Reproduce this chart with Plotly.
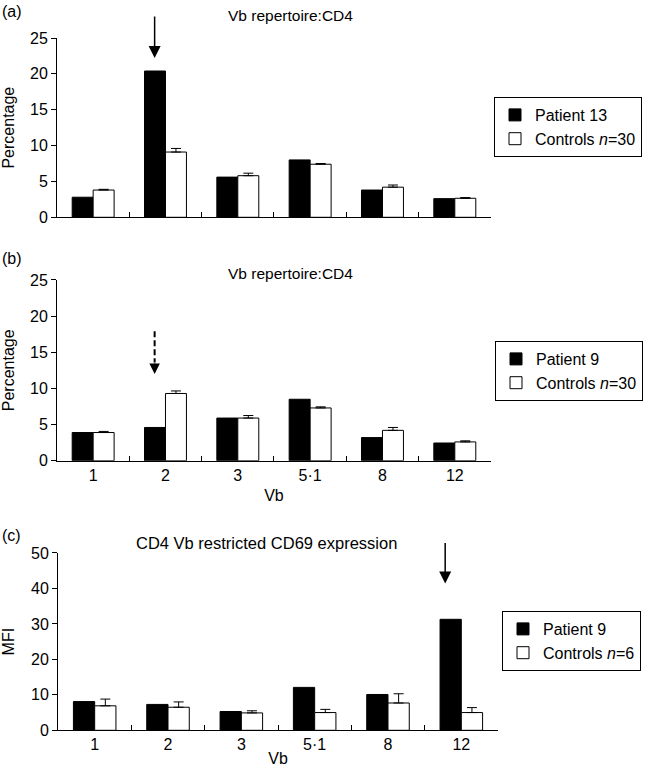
import plotly.graph_objects as go

categories = ["1", "2", "3", "5·1", "8", "12"]

# Panel (a): Vb repertoire CD4, Patient 13 vs controls n=30
a_patient = [2.8, 20.4, 5.6, 8.0, 3.8, 2.6]
a_control = [3.8, 9.1, 5.8, 7.4, 4.2, 2.65]
a_control_err = [0.1, 0.5, 0.35, 0.1, 0.3, 0.1]

# Panel (b): Vb repertoire CD4, Patient 9 vs controls n=30
b_patient = [3.9, 4.6, 5.9, 8.5, 3.2, 2.45]
b_control = [3.9, 9.3, 5.9, 7.3, 4.2, 2.6]
b_control_err = [0.15, 0.35, 0.35, 0.15, 0.4, 0.15]

# Panel (c): CD4 Vb restricted CD69 expression (MFI)
c_patient = [8.1, 7.3, 5.3, 12.1, 10.1, 31.3]
c_control = [6.9, 6.5, 4.9, 5.0, 7.7, 5.0]
c_control_err = [1.9, 1.5, 0.6, 0.9, 2.6, 1.4]

FONT = "Liberation Sans, Arial, sans-serif"
FS = 16

fig = go.Figure()

def add_panel(idx, pat, ctl, err, pname, cname, legend):
    xa = "x" if idx == 1 else f"x{idx}"
    ya = "y" if idx == 1 else f"y{idx}"
    fig.add_trace(go.Bar(
        x=categories, y=pat, name=pname, xaxis=xa, yaxis=ya, legend=legend,
        marker=dict(color="black", line=dict(color="black", width=1)),
    ))
    fig.add_trace(go.Bar(
        x=categories, y=ctl, name=cname, xaxis=xa, yaxis=ya, legend=legend,
        marker=dict(color="white", line=dict(color="black", width=1)),
        error_y=dict(type="data", array=err, arrayminus=[0] * len(err), symmetric=False,
                     color="black", thickness=1, width=5),
    ))

add_panel(1, a_patient, a_control, a_control_err, "Patient 13", "Controls <i>n</i>=30", "legend")
add_panel(2, b_patient, b_control, b_control_err, "Patient 9", "Controls <i>n</i>=30", "legend2")
add_panel(3, c_patient, c_control, c_control_err, "Patient 9", "Controls <i>n</i>=6", "legend3")

xcommon = dict(type="category", showline=True, linecolor="black", linewidth=1,
               ticks="inside", tickson="boundaries", ticklen=5, tickcolor="black",
               showgrid=False, zeroline=False, automargin=False,
               tickfont=dict(size=FS, color="black"))
ycommon = dict(showline=True, linecolor="black", linewidth=1, ticks="outside",
               ticklen=5, tickcolor="black", showgrid=False, zeroline=False, automargin=False,
               tickfont=dict(size=FS, color="black"))

legcommon = dict(bordercolor="black", borderwidth=1, bgcolor="white",
                 font=dict(size=FS, color="black", family=FONT), itemwidth=30,
                 xanchor="left", yanchor="top", tracegroupgap=0)

TF = dict(size=16, color="black", family=FONT)

fig.update_layout(
    width=649, height=776,
    margin=dict(l=0, r=0, t=0, b=0),
    paper_bgcolor="white", plot_bgcolor="white",
    font=dict(family=FONT, size=FS, color="black"),
    barmode="group", bargap=0.42, bargroupgap=0,
    xaxis=dict(domain=[0.0878, 0.7565], anchor="y", showticklabels=False, **xcommon),
    yaxis=dict(domain=[0.7200, 0.9510], anchor="x", range=[0, 25], tickvals=[0, 5, 10, 15, 20, 25],
               title=dict(text="Percentage", standoff=14, font=TF), **ycommon),
    xaxis2=dict(domain=[0.0878, 0.7565], anchor="y2", title=dict(text="Vb", standoff=6, font=TF), **xcommon),
    yaxis2=dict(domain=[0.4063, 0.6392], anchor="x2", range=[0, 25], tickvals=[0, 5, 10, 15, 20, 25],
                title=dict(text="Percentage", standoff=14, font=TF), **ycommon),
    xaxis3=dict(domain=[0.0894, 0.7673], anchor="y3", title=dict(text="Vb", standoff=0, font=TF), **xcommon),
    yaxis3=dict(domain=[0.0589, 0.2874], anchor="x3", range=[0, 50], tickvals=[0, 10, 20, 30, 40, 50],
                title=dict(text="MFI", standoff=14, font=TF), **ycommon),
    legend=dict(x=494 / 649, y=1 - 97 / 776, traceorder="normal", **legcommon),
    legend2=dict(x=495 / 649, y=1 - 341 / 776, traceorder="normal", **legcommon),
    legend3=dict(x=502 / 649, y=1 - 611 / 776, traceorder="normal", **legcommon),
    showlegend=True,
)

annotations = [
    dict(text="(a)", xref="paper", yref="paper", x=0.0, y=1 - 12 / 776, xanchor="left", yanchor="middle", showarrow=False),
    dict(text="(b)", xref="paper", yref="paper", x=0.0, y=1 - 259 / 776, xanchor="left", yanchor="middle", showarrow=False),
    dict(text="(c)", xref="paper", yref="paper", x=0.0, y=1 - 535 / 776, xanchor="left", yanchor="middle", showarrow=False),
    dict(text="Vb repertoire:CD4", xref="paper", yref="paper", x=290 / 649, y=1 - 15 / 776, xanchor="center", yanchor="middle",
         showarrow=False, font=dict(size=15.5)),
    dict(text="Vb repertoire:CD4", xref="paper", yref="paper", x=290 / 649, y=1 - 273 / 776, xanchor="center", yanchor="middle",
         showarrow=False, font=dict(size=15.5)),
    dict(text="CD4 Vb restricted CD69 expression", xref="paper", yref="paper", x=266 / 649, y=1 - 543 / 776, xanchor="center",
         yanchor="middle", showarrow=False, font=dict(size=16.5)),
    # arrows
    dict(text="", xref="x", yref="y", x=0.85, y=22.2, ax=0, ay=-43, showarrow=True,
         arrowhead=2, arrowsize=1.6, arrowwidth=1.5, arrowcolor="black", standoff=0),
    dict(text="", xref="x2", yref="y2", x=0.85, y=12.0, ax=0, ay=-12, showarrow=True,
         arrowhead=2, arrowsize=1.4, arrowwidth=1.5, arrowcolor="black", standoff=0),
    dict(text="", xref="x3", yref="y3", x=4.78, y=41.4, ax=0, ay=-42, showarrow=True,
         arrowhead=2, arrowsize=1.6, arrowwidth=1.5, arrowcolor="black", standoff=0),
]
fig.update_layout(annotations=annotations)

fig.add_shape(type="line", xref="x2", yref="y2", x0=0.85, x1=0.85, y0=17.9, y1=13.6,
              line=dict(color="black", width=2, dash="6px,3px"))

fig.write_html("out.html", config={"displayModeBar": False},
               post_script="document.body.style.margin='0px';")
